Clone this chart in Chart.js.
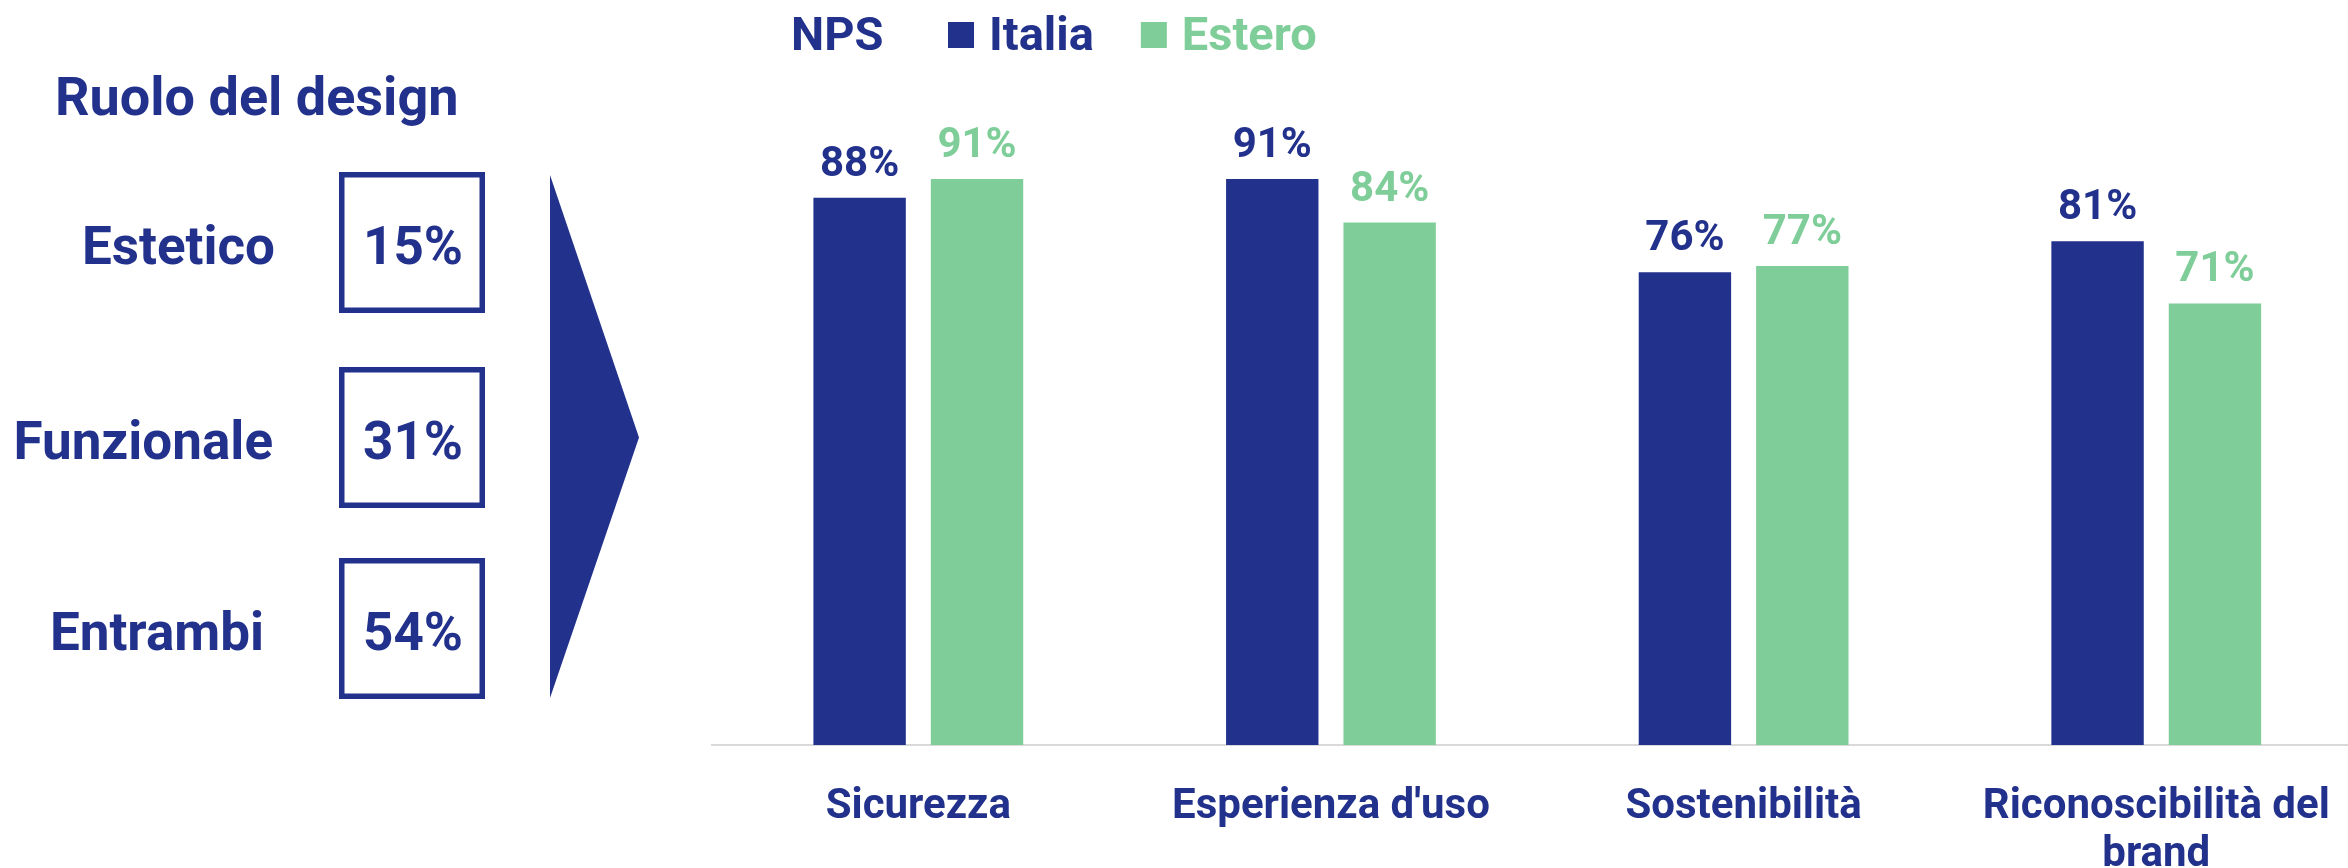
<!DOCTYPE html>
<html lang="it">
<head>
<meta charset="utf-8">
<title>Ruolo del design e NPS</title>
<script src="https://cdn.jsdelivr.net/npm/chart.js@4"></script>
<style>
    html, body { margin: 0; padding: 0; background: #ffffff; overflow: hidden; }
    #wrap { width: 2368px; height: 868px; }
</style>
</head>
<body>
<div id="wrap"><canvas id="npsChart" width="2368" height="868"></canvas></div>
<script>
// ---- Data ----

const categories = ['Sicurezza', "Esperienza d'uso", 'Sostenibilità', ['Riconoscibilità del', 'brand']];
const italiaValues = [88, 91, 76, 81];
const esteroValues = [91, 84, 77, 71];
const seriesNames = ['Italia', 'Estero'];

const roleLabels = ['Estetico', 'Funzionale', 'Entrambi'];
const roleShares = [15, 31, 54];

// ---- Style ----

const BLUE = '#22318b';
const GREEN = '#7fce99';
const FONT = 'Roboto, "Noto Sans", sans-serif';

// ---- Left panel: role of design + arrow ----

const rolePanel = {
    id: 'rolePanel',
    afterDraw(chart) {
        const ctx = chart.ctx;
        ctx.save();
        ctx.fillStyle = BLUE;
        ctx.strokeStyle = BLUE;

        ctx.font = `bold 54px ${FONT}`;
        ctx.textAlign = 'left';
        ctx.textBaseline = 'alphabetic';
        ctx.fillText('Ruolo del design', 55, 115);

        const rowTop = [172, 367, 558];
        const labelRight = [275, 273, 264];
        ctx.font = `bold 53px ${FONT}`;
        ctx.lineWidth = 5.5;
        roleLabels.forEach((label, i) => {
            const top = rowTop[i];
            const base = top + 92;
            ctx.textAlign = 'right';
            ctx.fillText(label, labelRight[i], base);
            ctx.strokeRect(341.75, top + 2.75, 140.5, 135.5);
            ctx.textAlign = 'center';
            ctx.fillText(roleShares[i] + '%', 413, base);
        });

        // arrow
        ctx.beginPath();
        ctx.moveTo(550, 175);
        ctx.lineTo(639, 437.5);
        ctx.lineTo(550, 698);
        ctx.closePath();
        ctx.fill();
        ctx.restore();
    }
};

// ---- Legend with NPS prefix ----

const npsLegend = {
    id: 'npsLegend',
    afterDraw(chart) {
        const ctx = chart.ctx;
        ctx.save();
        ctx.font = `bold 47px ${FONT}`;
        ctx.textAlign = 'left';
        ctx.textBaseline = 'alphabetic';
        ctx.fillStyle = BLUE;
        ctx.fillText('NPS', 791, 50);

        let x = 948;
        chart.data.datasets.forEach(ds => {
            ctx.fillStyle = ds.backgroundColor;
            ctx.fillRect(x, 22, 26, 26);
            x += 26 + 15;
            ctx.fillText(ds.label, x, 50);
            x += ctx.measureText(ds.label).width + 47;
        });
        ctx.restore();
    }
};

// ---- Value labels above bars ----

const valueLabels = {
    id: 'valueLabels',
    afterDatasetsDraw(chart) {
        const ctx = chart.ctx;
        ctx.save();
        ctx.font = `bold 42px ${FONT}`;
        ctx.textAlign = 'center';
        ctx.textBaseline = 'alphabetic';
        chart.data.datasets.forEach((ds, di) => {
            const meta = chart.getDatasetMeta(di);
            ctx.fillStyle = ds.backgroundColor;
            meta.data.forEach((bar, i) => {
                ctx.fillText(ds.data[i] + '%', bar.x, bar.y - 22);
            });
        });
        ctx.restore();
    }
};

// ---- Chart ----

new Chart(document.getElementById('npsChart'), {
    type: 'bar',
    data: {
        labels: categories,
        datasets: [
            { label: seriesNames[0], data: italiaValues, backgroundColor: BLUE },
            { label: seriesNames[1], data: esteroValues, backgroundColor: GREEN }
        ]
    },
    options: {
        responsive: false,
        animation: false,
        devicePixelRatio: 1,
        categoryPercentage: 0.569,
        barPercentage: 0.787,
        layout: { padding: { top: 123, left: 712, right: 2, bottom: 0 } },
        plugins: {
            legend: { display: false },
            tooltip: { enabled: false }
        },
        scales: {
            x: {
                grid: { display: false, drawTicks: false },
                border: { display: true, color: '#d9d9d9', width: 2 },
                ticks: {
                    color: BLUE,
                    font: { family: FONT, size: 42, weight: 'bold', lineHeight: 1.15 },
                    padding: 38,
                    maxRotation: 0,
                    autoSkip: false
                },
                afterFit: scale => { scale.height = 123; }
            },
            y: { display: false, min: 0, max: 100 }
        }
    },
    plugins: [rolePanel, npsLegend, valueLabels]
});
</script>
</body>
</html>
